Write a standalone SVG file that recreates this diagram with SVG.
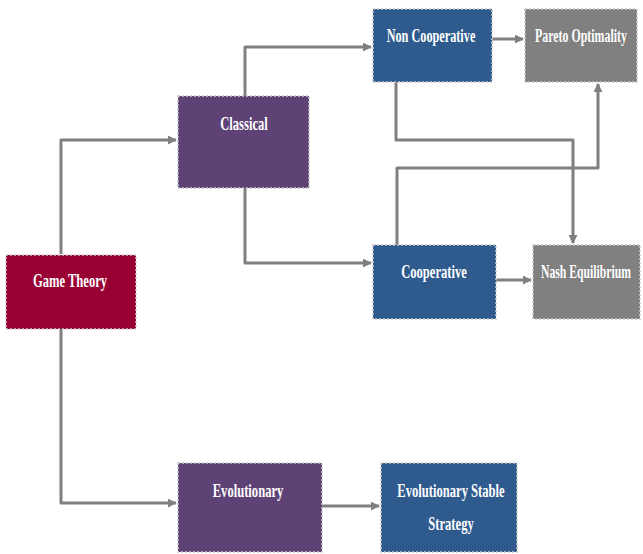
<svg xmlns="http://www.w3.org/2000/svg" width="643" height="554" viewBox="0 0 643 554">
<style>
.box{stroke:#c8c8c8;stroke-width:1.5;stroke-dasharray:2 2}
.red{fill:#990033}
.pur{fill:#5e4275}
.blu{fill:#2e5a8e}
.gry{fill:#808080}
.t{font-family:"Liberation Serif","Times New Roman",serif;font-weight:bold;font-size:18px;fill:#fff;text-anchor:middle}
.c{fill:none;stroke:#808080;stroke-width:3;stroke-linejoin:round}
</style>
<defs>
<marker id="a" viewBox="0 0 10 10" refX="9" refY="5" markerWidth="3" markerHeight="3" orient="auto" markerUnits="strokeWidth">
<path d="M0,0 L10,5 L0,10 z" fill="#808080"/>
</marker>
</defs>
<rect width="643" height="554" fill="#fff"/>
<g id="connectors">
<path class="c" d="M61,254 V140 H176" marker-end="url(#a)"/>
<path class="c" d="M61,329 V503 H176" marker-end="url(#a)"/>
<path class="c" d="M245,96 V47 H371" marker-end="url(#a)"/>
<path class="c" d="M245,188 V263 H371" marker-end="url(#a)"/>
<path class="c" d="M492,39 H523" marker-end="url(#a)"/>
<path class="c" d="M496,280 H531" marker-end="url(#a)"/>
<path class="c" d="M322,506 H379" marker-end="url(#a)"/>
<path class="c" d="M396,82 V140 H573 V243" marker-end="url(#a)"/>
<path class="c" d="M397,245 V168 H598 V84" marker-end="url(#a)"/>
</g>
<g id="game-theory">
<rect class="box red" x="6" y="255" width="130" height="74"/>
<text class="t" transform="translate(70,287) scale(0.7,1)">Game Theory</text>
</g>
<g id="classical">
<rect class="box pur" x="178" y="96" width="131" height="92"/>
<text class="t" transform="translate(244,130) scale(0.7,1)">Classical</text>
</g>
<g id="non-cooperative">
<rect class="box blu" x="373" y="9" width="119" height="73"/>
<text class="t" transform="translate(431,42) scale(0.68,1)">Non Cooperative</text>
</g>
<g id="pareto-optimality">
<rect class="box gry" x="525" y="9" width="112" height="73"/>
<text class="t" transform="translate(581,42) scale(0.66,1)">Pareto Optimality</text>
</g>
<g id="cooperative">
<rect class="box blu" x="373" y="245" width="123" height="74"/>
<text class="t" transform="translate(434,278) scale(0.7,1)">Cooperative</text>
</g>
<g id="nash-equilibrium">
<rect class="box gry" x="533" y="245" width="107" height="74"/>
<text class="t" transform="translate(586,278) scale(0.65,1)">Nash Equilibrium</text>
</g>
<g id="evolutionary">
<rect class="box pur" x="178" y="463" width="144" height="89"/>
<text class="t" transform="translate(248,497) scale(0.7,1)">Evolutionary</text>
</g>
<g id="ess">
<rect class="box blu" x="381" y="463" width="136" height="89"/>
<text class="t" transform="translate(451,497) scale(0.7,1)">Evolutionary Stable</text>
<text class="t" transform="translate(451,530) scale(0.7,1)">Strategy</text>
</g>
</svg>
